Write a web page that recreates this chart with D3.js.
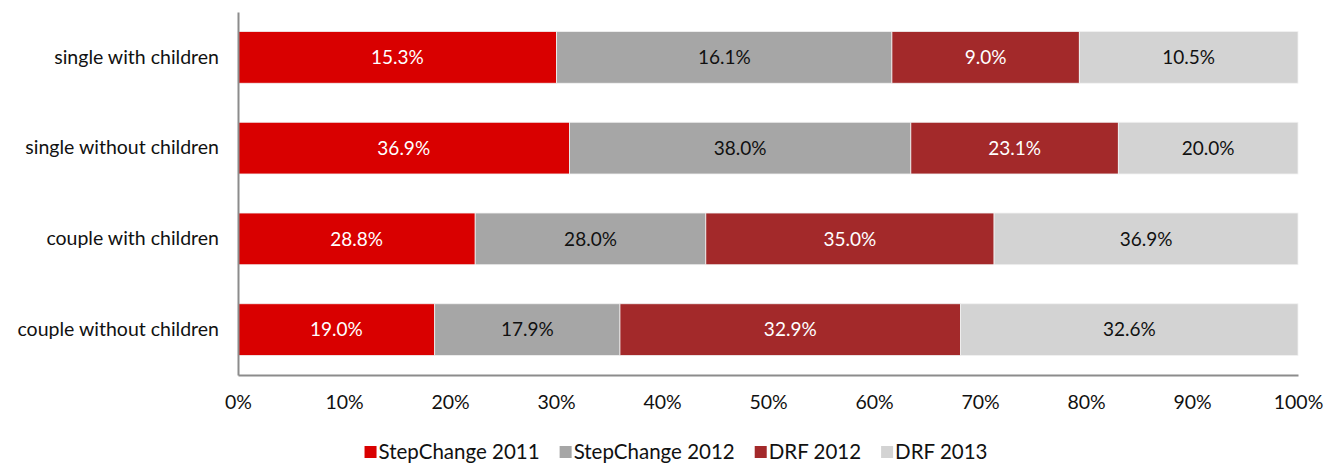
<!DOCTYPE html>
<html>
<head>
<meta charset="utf-8">
<script src="https://cdn.jsdelivr.net/npm/d3@7"></script>
<style>
  html, body { margin: 0; padding: 0; background: #fff; }
  svg text { font-family: "Lato", "Open Sans", sans-serif; }
</style>
</head>
<body>
<svg id="chart" width="1339" height="464"></svg>
<script>
(function () {
const categories = ["single with children", "single without children", "couple with children", "couple without children"];
const seriesNames = ["StepChange 2011", "StepChange 2012", "DRF 2012", "DRF 2013"];
const stepChange2011 = [15.3, 36.9, 28.8, 19.0];
const stepChange2012 = [16.1, 38.0, 28.0, 17.9];
const drf2012 = [9.0, 23.1, 35.0, 32.9];
const drf2013 = [10.5, 20.0, 36.9, 32.6];
const xTicks = [0, 0.1, 0.2, 0.3, 0.4, 0.5, 0.6, 0.7, 0.8, 0.9, 1.0];
const colors = ["#D90000", "#A6A6A6", "#A3292A", "#D3D3D3"];
const labelColors = ["#fff", "#111", "#fff", "#111"];

const seriesValues = [stepChange2011, stepChange2012, drf2012, drf2013];
const rows = categories.map((c, i) => {
  const r = { category: c };
  seriesNames.forEach((s, j) => r[s] = seriesValues[j][i]);
  return r;
});

const svg = d3.select("#chart");
const mLeft = 238, mRight = 1298, mTop = 12, mBottom = 375;

const stack = d3.stack().keys(seriesNames).offset(d3.stackOffsetExpand);
const stacked = stack(rows);

const x = d3.scaleLinear().domain([0, 1]).range([mLeft, mRight]);
const y = d3.scaleBand().domain(categories).range([mTop, mBottom]).paddingInner(0.43).paddingOuter(0.215);

const groups = svg.append("g").selectAll("g").data(stacked).join("g")
  .attr("fill", (d, i) => colors[i]);

groups.selectAll("rect").data(d => d.map(p => ({ p, key: d.key }))).join("rect")
  .attr("x", d => x(d.p[0]))
  .attr("y", d => y(d.p.data.category))
  .attr("width", d => x(d.p[1]) - x(d.p[0]))
  .attr("height", y.bandwidth())
  .attr("stroke", "#f2f2f2")
  .attr("stroke-width", 0.8);

stacked.forEach((s, i) => {
  svg.append("g").selectAll("text").data(s).join("text")
    .attr("x", d => (x(d[0]) + x(d[1])) / 2)
    .attr("y", d => y(d.data.category) + y.bandwidth() / 2)
    .attr("dy", "0.35em")
    .attr("text-anchor", "middle")
    .attr("font-size", 19)
    .attr("fill", labelColors[i])
    .text(d => d.data[s.key].toFixed(1) + "%");
});

const xAxis = d3.axisBottom(x).tickValues(xTicks).tickFormat(d3.format(".0%")).tickSize(0).tickPadding(20);
const gx = svg.append("g").attr("transform", `translate(0,${mBottom})`).call(xAxis);
gx.select(".domain").attr("stroke", "#8c8c8c").attr("stroke-width", 2);
gx.selectAll("text").attr("font-size", 19.5).attr("fill", "#111").attr("font-family", "Lato, sans-serif");

const yAxis = d3.axisLeft(y).tickSize(0).tickPadding(19);
const gy = svg.append("g").attr("transform", `translate(${mLeft},0)`).call(yAxis);
gy.select(".domain").attr("stroke", "#8c8c8c").attr("stroke-width", 2);
gy.selectAll("text").attr("font-size", 19.5).attr("fill", "#111").attr("font-family", "Lato, sans-serif");

const legend = svg.append("g");
let cx = 0;
seriesNames.forEach((name, i) => {
  const g = legend.append("g");
  g.append("rect").attr("x", 0).attr("y", -6).attr("width", 12).attr("height", 12).attr("fill", colors[i]);
  const t = g.append("text").attr("x", 14).attr("dy", "0.35em").attr("font-size", 20.5).attr("fill", "#111").text(name);
  const w = 14 + t.node().getComputedTextLength();
  g.attr("transform", `translate(${cx},0)`);
  cx += w + 20;
});
const totalW = cx - 20;
legend.attr("transform", `translate(${676 - totalW / 2},452)`);
})();
</script>
</body>
</html>
